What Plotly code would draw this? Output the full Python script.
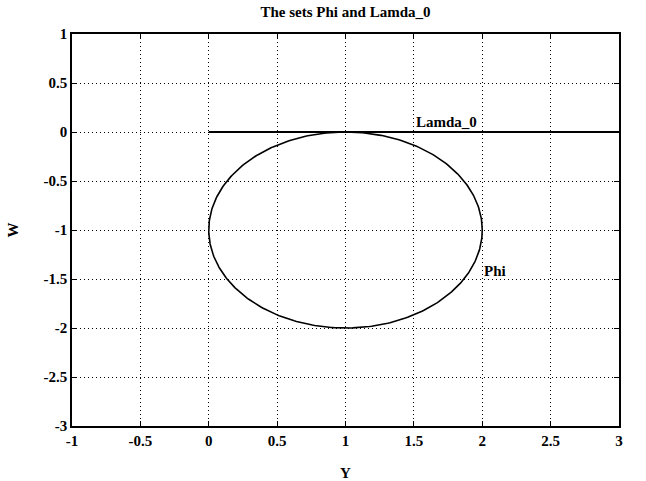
import numpy as np
import plotly.graph_objects as go

# Data
title_text = "The sets Phi and Lamda_0"
x_label = "Y"
y_label = "W"
x_ticks = [-1, -0.5, 0, 0.5, 1, 1.5, 2, 2.5, 3]
y_ticks = [1, 0.5, 0, -0.5, -1, -1.5, -2, -2.5, -3]
x_tick_text = ["-1", "-0.5", "0", "0.5", "1", "1.5", "2", "2.5", "3"]
y_tick_text = ["1", "0.5", "0", "-0.5", "-1", "-1.5", "-2", "-2.5", "-3"]

# Phi: circle with centre (1, -1) and radius 1
phi_center = [1.0, -1.0]
phi_radius = [1.0]
# Lamda_0: segment on W = 0
lamda_x = [0.0, 3.0]
lamda_y = [0.0, 0.0]

label_names = ["Lamda_0", "Phi"]
label_x = [1.5, 2.0]
label_y = [0.1, -1.42]

t = np.linspace(0, 2 * np.pi, 361)
phi_x = phi_center[0] + phi_radius[0] * np.cos(t)
phi_y = phi_center[1] + phi_radius[0] * np.sin(t)

font_fam = "Liberation Serif"
fs = 15

fig = go.Figure()
fig.add_trace(go.Scatter(x=phi_x, y=phi_y, mode="lines",
                         line=dict(color="black", width=1.6), showlegend=False))
fig.add_trace(go.Scatter(x=lamda_x, y=lamda_y, mode="lines",
                         line=dict(color="black", width=1.8), showlegend=False))

for name, lx, ly in zip(label_names, label_x, label_y):
    fig.add_annotation(x=lx, y=ly, text="<b>%s</b>" % name, showarrow=False,
                       xanchor="left", yanchor="middle",
                       font=dict(family=font_fam, size=fs, color="black"))

axis_common = dict(
    showgrid=True, gridcolor="black", griddash="1px,3px", gridwidth=1,
    zeroline=False, showline=True, linecolor="black", linewidth=1.5,
    mirror="ticks", ticks="inside", ticklen=5, tickcolor="black",
    automargin=False,
    tickfont=dict(family=font_fam, size=fs, color="black"),
)

fig.update_xaxes(range=[-1, 3], tickvals=x_ticks,
                 ticktext=["<b>%s</b>" % s for s in x_tick_text],
                 title=dict(text="<b>%s</b>" % x_label, standoff=22,
                            font=dict(family=font_fam, size=fs, color="black")),
                 **axis_common)
fig.update_yaxes(range=[-3, 1], tickvals=y_ticks,
                 ticktext=["<b>%s</b>" % s for s in y_tick_text],
                 title=dict(text="<b>%s</b>" % y_label, standoff=21,
                            font=dict(family=font_fam, size=fs, color="black")),
                 **axis_common)

fig.update_layout(
    width=646, height=481,
    margin=dict(l=72, r=27, t=34, b=55),
    paper_bgcolor="white", plot_bgcolor="white",
    title=dict(text="<b>%s</b>" % title_text, xref="paper", x=0.5,
               xanchor="center", y=1 - 12 / 481, yanchor="middle",
               font=dict(family=font_fam, size=fs, color="black")),
    showlegend=False,
)

fig.write_html("out.html", config={"displayModeBar": False},
               post_script="document.body.style.margin='0';document.body.style.overflow='hidden';")
